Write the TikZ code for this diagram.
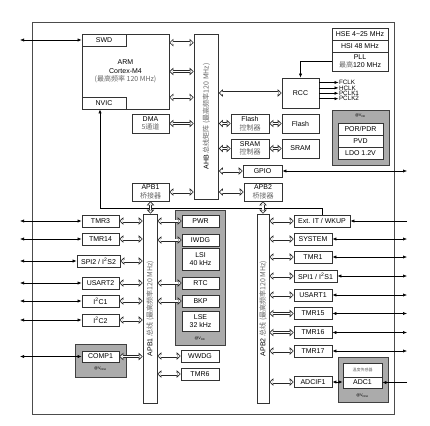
\documentclass[tikz,border=0pt]{standalone}
\usepackage{fontspec}
\setmainfont{Liberation Sans}
\newfontfamily\cjk{Noto Sans CJK SC}
\usetikzlibrary{arrows.meta,positioning}
\newcommand{\zh}[1]{{\cjk\color{black!60}#1}}

\begin{document}
\begin{tikzpicture}[x=1pt, y=-1pt, >={Latex[length=4pt,width=3.2pt]},
    font=\fontsize{7}{8.5}\selectfont,
    blk/.style={draw=black!80, fill=white, line width=0.7pt, inner sep=0pt,
      minimum width=37pt, minimum height=12pt, align=center},
    pnl/.style={draw=black!75, fill=black!33, line width=0.8pt},
    bar/.style={draw=black!80, fill=white, line width=0.7pt, inner sep=0pt},
    bartxt/.style={rotate=90, font=\fontsize{7}{7}\selectfont},
    bus/.style={draw=black!85, line width=3pt,
      {Triangle[length=4pt, width=7.5pt, line width=0.6pt, fill=white]}-{Triangle[length=4pt, width=7.5pt, line width=0.6pt, fill=white]},
      postaction={draw=white, line width=1.8pt, -, shorten <=3.6pt, shorten >=3.6pt}},
    sig/.style={line width=0.6pt},
    clk/.style={anchor=west, inner sep=0.3pt, xshift=1.5pt, text height=4.4pt, text depth=0pt,
      font=\fontsize{6.3}{6.3}\selectfont},
    vlbl/.style={font=\fontsize{3.8}{4}\selectfont, inner sep=0pt}]
  \useasboundingbox (0,0) rectangle (430,425);
  \draw[draw=black!70, line width=0.9pt] (32,22) rectangle (394,414);
  \draw[pnl] (332,110) rectangle (389,165);
  \draw[pnl] (175,210) rectangle (225,345);
  \draw[pnl] (75,344) rectangle (126,377);
  \draw[pnl] (338,357) rectangle (388,402);
  \coordinate (lft) at (20,0);
  \coordinate (rgt) at (407,0);
  \coordinate (irq) at (100,208);

  \node[blk, minimum width=87pt, minimum height=75pt] (cpu) at (125.5,71.5) {ARM\\Cortex-M4\\\zh{(最高频率 120 MHz)}};
  \node[blk, minimum width=44pt] (swd) at (104,40) {SWD};
  \node[blk, minimum width=44pt] (nvic) at (104,103) {NVIC};
  \node[bar, minimum width=24.5pt, minimum height=165pt] (ahb) at (206.25,116.5) {};
  \node[bartxt] (ahbtxt) at (ahb) {AHB \zh{总线矩阵 (最高频率120 MHz)}};
  \node[blk, minimum height=19pt] (dma) at (150.5,123.5) {DMA\\\zh{5通道}};
  \node[blk, minimum height=18pt] (br1) at (150.5,192) {APB1\\\zh{桥接器}};
  \node[blk, minimum width=38pt, minimum height=18pt] (br2) at (263,192) {APB2\\\zh{桥接器}};
  \node[blk, minimum width=38pt, minimum height=19pt] (fctl) at (250,123.5) {Flash\\\zh{控制器}};
  \node[blk, minimum height=19pt] (flash) at (300.5,123.5) {Flash};
  \node[blk, minimum width=38pt, minimum height=19pt] (sctl) at (250,148.5) {SRAM\\\zh{控制器}};
  \node[blk, minimum height=19pt] (sram) at (300.5,148.5) {SRAM};
  \node[blk, minimum width=39pt] (gpio) at (262.5,171) {GPIO};
  \node[blk, minimum height=30pt] (rcc) at (300.5,93) {RCC};
  \node[blk, minimum width=56pt] (hse) at (360,34) {HSE 4\textasciitilde25 MHz};
  \node[blk, minimum width=56pt, below=-0.7pt of hse] (hsi) {HSI 48 MHz};
  \node[blk, minimum width=56pt, minimum height=19pt, below=-0.7pt of hsi] (pll) {PLL\\\zh{最高}120 MHz};
  \node[clk] (fclk) at (337,82.5) {FCLK};
  \node[clk] (hclk) at (337,87.9) {HCLK};
  \node[clk] (pclk1) at (337,93.3) {PCLK1};
  \node[clk] (pclk2) at (337,98.7) {PCLK2};
  \node[vlbl] (vdd1) at (360.5,116) {@V\textsubscript{DD}};
  \node[blk, minimum width=45pt] (por) at (360.5,129) {POR/PDR};
  \node[blk, minimum width=45pt, below=-0.7pt of por] (pvd) {PVD};
  \node[blk, minimum width=45pt, below=-0.7pt of pvd] (ldo) {LDO 1.2V};

  \node[bar, minimum width=14pt, minimum height=189pt] (apb1) at (150,308.5) {};
  \node[bartxt] (apb1txt) at (apb1) {APB1 \zh{总线 (最高频率120 MHz)}};
  \node[blk] (tmr3) at (100.5,221) {TMR3};
  \node[blk] (tmr14) at (100.5,239) {TMR14};
  \node[blk, minimum width=43pt] (spi2) at (98.5,261) {SPI2 / I\textsuperscript{2}S2};
  \node[blk] (usart2) at (100.5,283) {USART2};
  \node[blk] (i2c1) at (100.5,301) {I\textsuperscript{2}C1};
  \node[blk] (i2c2) at (100.5,320) {I\textsuperscript{2}C2};
  \node[blk, minimum height=11pt] (comp1) at (100.5,356.5) {COMP1};
  \node[vlbl] (vdda1) at (100.5,369) {@V\textsubscript{DDA}};

  \node[blk] (pwr) at (200.5,221) {PWR};
  \node[blk] (iwdg) at (200.5,240) {IWDG};
  \node[blk, minimum height=22pt] (lsi) at (200.5,259) {LSI\\40 kHz};
  \node[blk] (rtc) at (200.5,283) {RTC};
  \node[blk] (bkp) at (200.5,301) {BKP};
  \node[blk, minimum height=20pt] (lse) at (200.5,321) {LSE\\32 kHz};
  \node[vlbl] (vdd2) at (200,339) {@V\textsubscript{DD}};
  \node[blk, minimum width=38pt] (wwdg) at (200,356) {WWDG};
  \node[blk, minimum width=38pt] (tmr6) at (200,374) {TMR6};

  \node[bar, minimum width=12pt, minimum height=189pt] (apb2) at (263,308.5) {};
  \node[bartxt] (apb2txt) at (apb2) {APB2 \zh{总线 (最高频率120 MHz)}};
  \node[blk, minimum width=56pt] (extit) at (322,221) {Ext. IT / WKUP};
  \node[blk, minimum width=38pt] (system) at (313,239) {SYSTEM};
  \node[blk, minimum width=38pt] (tmr1) at (313,257) {TMR1};
  \node[blk, minimum width=43pt] (spi1) at (315.5,276) {SPI1 / I\textsuperscript{2}S1};
  \node[blk, minimum width=38pt] (usart1) at (313,295) {USART1};
  \node[blk, minimum width=38pt] (tmr15) at (313,313.5) {TMR15};
  \node[blk, minimum width=38pt] (tmr16) at (313,332.5) {TMR16};
  \node[blk, minimum width=38pt] (tmr17) at (313,351) {TMR17};
  \node[blk, minimum width=38pt, minimum height=11pt] (adcif) at (313,382) {ADCIF1};
  \node[blk, minimum width=39pt, minimum height=14pt, font=\fontsize{4}{4}\selectfont] (temp) at (362.5,370) {\zh{温度传感器}};
  \node[blk, minimum width=39pt, minimum height=11pt] (adc1) at (362.5,382.5) {ADC1};
  \node[vlbl] (vdda2) at (362.5,396) {@V\textsubscript{DDA}};

  \draw[sig,->] (extit.north) |- (irq) -- (irq |- nvic.south);
  \draw[sig,->] (pll.west) -| (rcc.north);
  \draw[sig,->] (rcc.east |- fclk) -- (fclk.west);
  \draw[sig,->] (rcc.east |- hclk) -- (hclk.west);
  \draw[sig,->] (rcc.east |- pclk1) -- (pclk1.west);
  \draw[sig,->] (rcc.east |- pclk2) -- (pclk2.west);

  \coordinate (c1) at ([yshift=-9pt]cpu.north east);
  \coordinate (c3) at ([yshift=12pt]cpu.south east);
  \draw[bus] (c1) -- (c1 -| ahb.west);
  \draw[bus] (cpu.east) -- (cpu.east -| ahb.west);
  \draw[bus] (c3) -- (c3 -| ahb.west);
  \draw[bus] (dma.east) -- (dma.east -| ahb.west);
  \draw[bus] (br1.east) -- (br1.east -| ahb.west);
  \draw[bus] (ahb.east |- rcc) -- (rcc.west);
  \draw[bus] (ahb.east |- fctl) -- (fctl.west);
  \draw[bus] (fctl.east) -- (flash.west);
  \draw[bus] (ahb.east |- sctl) -- (sctl.west);
  \draw[bus] (sctl.east) -- (sram.west);
  \draw[bus] (ahb.east |- gpio) -- (gpio.west);
  \draw[bus] (ahb.east |- br2) -- (br2.west);
  \draw[bus] (br1.south) -- (br1.south |- apb1.north);
  \draw[bus] (br2.south) -- (br2.south |- apb2.north);

  \draw[bus] (tmr3.east) -- (tmr3.east -| apb1.west);
  \draw[bus] (tmr14.east) -- (tmr14.east -| apb1.west);
  \draw[bus] (spi2.east) -- (spi2.east -| apb1.west);
  \draw[bus] (usart2.east) -- (usart2.east -| apb1.west);
  \draw[bus] (i2c1.east) -- (i2c1.east -| apb1.west);
  \draw[bus] (i2c2.east) -- (i2c2.east -| apb1.west);
  \draw[bus] (comp1.east) -- (comp1.east -| apb1.west);
  \draw[bus] (apb1.east |- pwr) -- (pwr.west);
  \draw[bus] (apb1.east |- iwdg) -- (iwdg.west);
  \draw[bus] (apb1.east |- rtc) -- (rtc.west);
  \draw[bus] (apb1.east |- bkp) -- (bkp.west);
  \draw[bus] (apb1.east |- wwdg) -- (wwdg.west);
  \draw[bus] (apb1.east |- tmr6) -- (tmr6.west);

  \draw[bus] (apb2.east |- extit) -- (extit.west);
  \draw[bus] (apb2.east |- system) -- (system.west);
  \draw[bus] (apb2.east |- tmr1) -- (tmr1.west);
  \draw[bus] (apb2.east |- spi1) -- (spi1.west);
  \draw[bus] (apb2.east |- usart1) -- (usart1.west);
  \draw[bus] (apb2.east |- tmr15) -- (tmr15.west);
  \draw[bus] (apb2.east |- tmr16) -- (tmr16.west);
  \draw[bus] (apb2.east |- tmr17) -- (tmr17.west);
  \draw[bus] (apb2.east |- adcif) -- (adcif.west);

  \draw[sig,<->] (lft |- swd) -- (swd.west);
  \draw[sig,<->] (lft |- tmr3) -- (tmr3.west);
  \draw[sig,<->] (lft |- tmr14) -- (tmr14.west);
  \draw[sig,<->] (lft |- spi2) -- (spi2.west);
  \draw[sig,<->] (lft |- usart2) -- (usart2.west);
  \draw[sig,<->] (lft |- i2c1) -- (i2c1.west);
  \draw[sig,<->] (lft |- i2c2) -- (i2c2.west);
  \draw[sig,<->] (lft |- comp1) -- (comp1.west);
  \draw[sig,<->] (gpio.east) -- (gpio.east -| rgt);
  \draw[sig,->] (rgt |- extit) -- (extit.east);
  \draw[sig,<->] (system.east) -- (system.east -| rgt);
  \draw[sig,<->] (tmr1.east) -- (tmr1.east -| rgt);
  \draw[sig,<->] (spi1.east) -- (spi1.east -| rgt);
  \draw[sig,<->] (usart1.east) -- (usart1.east -| rgt);
  \draw[sig,<->] (tmr15.east) -- (tmr15.east -| rgt);
  \draw[sig,<->] (tmr16.east) -- (tmr16.east -| rgt);
  \draw[sig,<->] (tmr17.east) -- (tmr17.east -| rgt);
  \draw[sig,<->] (adcif.east) -- (adcif.east -| adc1.west);
  \draw[sig,->] (rgt |- adc1) -- (adc1.east);
\end{tikzpicture}
\end{document}
